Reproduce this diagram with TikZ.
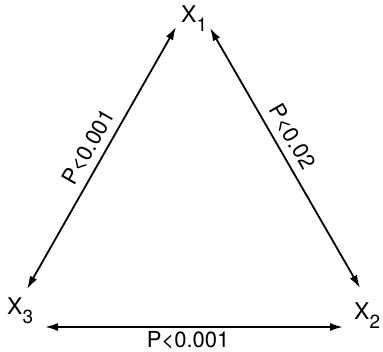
\documentclass[tikz,border=0pt]{standalone}
\usepackage{fontspec}
\setmainfont{TeX Gyre Heros}
\usetikzlibrary{arrows.meta, positioning}

\newcommand{\varlab}[1]{X\raisebox{-9pt}{\fontsize{19}{19}\selectfont #1}}

\begin{document}
\begin{tikzpicture}[x=1pt, y=-1pt,
    link/.style={line width=1.8pt, {Latex[length=13pt,width=8pt]}-{Latex[length=13pt,width=8pt]}},
    var/.style={anchor=base west, inner sep=0pt, font=\fontsize{23}{27}\selectfont},
    plab/.style={sloped, inner sep=2pt, font=\fontsize{22}{26}\selectfont}]
  \useasboundingbox (0,0) rectangle (383,352);
  % variables
  \node[var] (x1) at (181,23) {\varlab{1}};
  \node[var] (x2) at (354,320) {\varlab{2}};
  \node[var] (x3) at (7,315) {\varlab{3}};
  % arrow ends
  \coordinate (e13) at (176,27);
  \coordinate (e31) at (27,289);
  \coordinate (e12) at (210,28);
  \coordinate (e21) at (360,288);
  \coordinate (e32) at (45,327);
  \coordinate (e23) at (343,327);
  % links
  \draw[link] (e31) -- node[plab, above=5pt, pos=0.51] {P<0.001} (e13);
  \draw[link] (e12) -- node[plab, above=5pt, pos=0.45] {P<0.02} (e21);
  \draw[link] (e32) -- node[plab, below=2pt, pos=0.48] {P<0.001} (e23);
\end{tikzpicture}
\end{document}
